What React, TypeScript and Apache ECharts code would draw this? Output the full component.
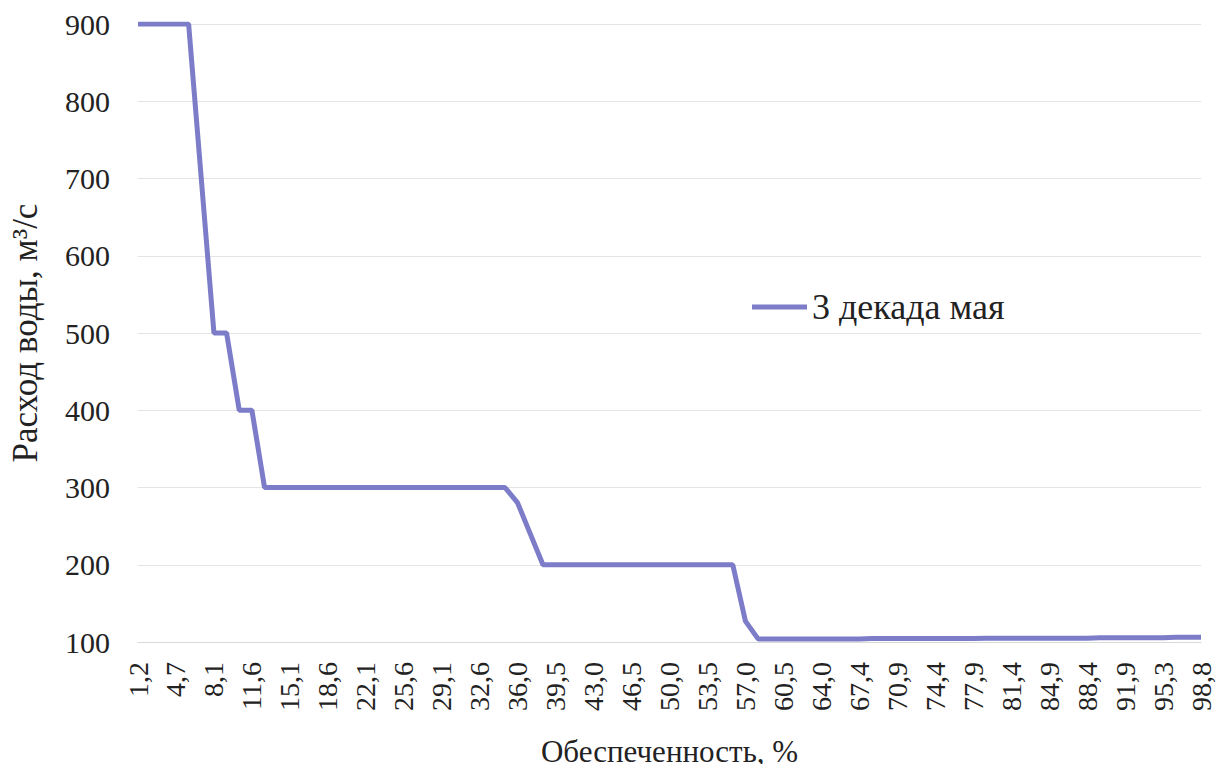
import React, { useEffect, useRef } from "react";
import * as echarts from "echarts";

const categories: string[] = [
  "1,2", "2,3", "3,5", "4,7", "5,8", "7,0", "8,1", "9,3", "10,5", "11,6",
  "12,8", "14,0", "15,1", "16,3", "17,4", "18,6", "19,8", "20,9", "22,1", "23,3",
  "24,4", "25,6", "26,7", "27,9", "29,1", "30,2", "31,4", "32,6", "33,7", "34,9",
  "36,0", "37,2", "38,4", "39,5", "40,7", "41,9", "43,0", "44,2", "45,3", "46,5",
  "47,7", "48,8", "50,0", "51,2", "52,3", "53,5", "54,7", "55,8", "57,0", "58,1",
  "59,3", "60,5", "61,6", "62,8", "64,0", "65,1", "66,3", "67,4", "68,6", "69,8",
  "70,9", "72,1", "73,3", "74,4", "75,6", "76,7", "77,9", "79,1", "80,2", "81,4",
  "82,6", "83,7", "84,9", "86,0", "87,2", "88,4", "89,5", "90,7", "91,9", "93,0",
  "94,2", "95,3", "96,5", "97,7", "98,8",
];

const discharge: number[] = [
  900, 900, 900, 900, 900, 700, 500, 500, 400, 400,
  300, 300, 300, 300, 300, 300, 300, 300, 300, 300,
  300, 300, 300, 300, 300, 300, 300, 300, 300, 300,
  280, 240, 200, 200, 200, 200, 200, 200, 200, 200,
  200, 200, 200, 200, 200, 200, 200, 200, 127, 104,
  104, 104, 104, 104, 104, 104, 104, 104, 104.5, 104.5,
  104.5, 104.5, 104.5, 104.5, 104.5, 104.5, 104.5, 105, 105, 105,
  105, 105, 105, 105, 105, 105, 105.5, 105.5, 105.5, 105.5,
  105.5, 105.5, 106, 106, 106,
];

const seriesName = "3 декада мая";
const xName = "Обеспеченность, %";
const yName = "Расход воды, м³/с";

const FONT = "Times New Roman, Liberation Serif, DejaVu Serif, serif";

export default function App() {
  const ref = useRef<HTMLDivElement>(null);
  useEffect(() => {
    if (!ref.current) return;
    const chart = echarts.init(ref.current, undefined, { renderer: "svg" });
    chart.setOption({
      animation: false,
      backgroundColor: "#ffffff",
      textStyle: { fontFamily: FONT },
      grid: { left: 138, right: 24, top: 24, bottom: 130, outerBoundsMode: "none", containLabel: false },
      legend: {
        left: 752,
        top: 289,
        padding: 0,
        icon: "rect",
        itemWidth: 55,
        itemHeight: 5,
        data: [seriesName],
        textStyle: { fontFamily: FONT, fontSize: 36, color: "#222" },
      },
      xAxis: {
        type: "category",
        data: categories,
        boundaryGap: false,
        name: xName,
        nameLocation: "middle",
        nameGap: 94,
        nameTextStyle: { fontFamily: FONT, fontSize: 31, color: "#222" },
        axisLine: { show: true, lineStyle: { color: "#d9d9d9", width: 1 } },
        axisTick: { show: false },
        axisLabel: {
          interval: 2,
          rotate: 90,
          margin: 20,
          fontFamily: FONT,
          fontSize: 28,
          color: "#222",
        },
        splitLine: { show: false },
      },
      yAxis: {
        type: "value",
        min: 100,
        max: 900,
        interval: 100,
        name: yName,
        nameLocation: "middle",
        nameGap: 95,
        nameTextStyle: { fontFamily: FONT, fontSize: 35, color: "#222" },
        axisLine: { show: false },
        axisTick: { show: false },
        axisLabel: { margin: 28, fontFamily: FONT, fontSize: 30, color: "#222" },
        splitLine: { lineStyle: { color: "#e4e4e4", width: 1 } },
      },
      series: [
        {
          name: seriesName,
          type: "line",
          data: discharge,
          showSymbol: false,
          symbol: "none",
          lineStyle: { color: "#7c7cc9", width: 5 },
          itemStyle: { color: "#7c7cc9" },
        },
      ],
    });
    return () => chart.dispose();
  }, []);
  return <div ref={ref} style={{ width: 1225, height: 772, margin: -8 }} />;
}
